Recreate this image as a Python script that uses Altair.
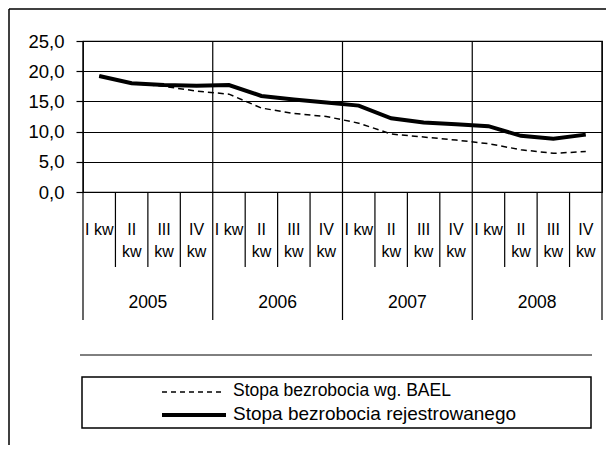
import altair as alt
import pandas as pd

years = ["2005", "2006", "2007", "2008"]
quarters = ["I kw", "II kw", "III kw", "IV kw"]
series_names = ["Stopa bezrobocia wg. BAEL", "Stopa bezrobocia rejestrowanego"]
bael = [19.2, 18.0, 17.5, 16.7, 16.2, 13.9, 13.0, 12.5, 11.4, 9.6, 9.1, 8.6, 8.0, 7.0, 6.4, 6.7]
reg = [19.2, 18.0, 17.7, 17.6, 17.7, 15.9, 15.3, 14.8, 14.3, 12.2, 11.5, 11.2, 10.9, 9.3, 8.8, 9.5]
y_ticks = [0, 5, 10, 15, 20, 25]

FONT = "Liberation Sans"

rows = []
i = 0
for y in years:
    for q in quarters:
        top = q if len(q) <= 4 else q.split()[0]
        bottom = "" if len(q) <= 4 else q.split()[1]
        rows.append({"i": i, "year": y, "quarter": q, "top": top, "bottom": bottom,
                     "bael": bael[i], "reg": reg[i]})
        i += 1
df = pd.DataFrame(rows)
n = len(df)

xscale = alt.Scale(domain=[0, n], nice=False, zero=False)
yscale = alt.Scale(domain=[0, 25], nice=False)
yaxis = alt.Axis(values=y_ticks, title=None, grid=True, gridColor="black",
                 gridOpacity=1, gridWidth=1.2, domain=False, tickColor="black", tickSize=7,
                 tickWidth=1.2, labelPadding=12, labelFont=FONT, labelFontSize=18.5,
                 labelColor="black", labelOverlap=False,
                 labelExpr="replace(format(datum.value, '.1f'), '.', ',')")

base = alt.Chart(df).transform_calculate(xc="datum.i + 0.5")

line_bael = base.mark_line(color="black", strokeWidth=1.5, strokeDash=[6, 4]).encode(
    x=alt.X("xc:Q", scale=xscale, axis=None),
    y=alt.Y("bael:Q", scale=yscale, axis=yaxis),
)
line_reg = base.mark_line(color="black", strokeWidth=4).encode(
    x=alt.X("xc:Q", scale=xscale, axis=None),
    y=alt.Y("reg:Q", scale=yscale, axis=yaxis),
)

# category separators
bounds = pd.DataFrame({"b": list(range(n + 1))})
bounds["major"] = bounds["b"] % len(quarters) == 0
sep_minor = alt.Chart(bounds).transform_filter("!datum.major").mark_rule(color="black", strokeWidth=1.2).encode(
    x=alt.X("b:Q", scale=xscale, axis=None), y=alt.value(151), y2=alt.value(226))
sep_major = alt.Chart(bounds).transform_filter("datum.major").mark_rule(color="black", strokeWidth=1.2).encode(
    x=alt.X("b:Q", scale=xscale, axis=None), y=alt.value(0), y2=alt.value(279))

q_top = base.mark_text(font=FONT, fontSize=16, color="black", baseline="middle").encode(
    x=alt.X("xc:Q", scale=xscale, axis=None), y=alt.value(189), text="top:N")
q_bot = base.mark_text(font=FONT, fontSize=16, color="black", baseline="middle").encode(
    x=alt.X("xc:Q", scale=xscale, axis=None), y=alt.value(211), text="bottom:N")

ydf = pd.DataFrame({"year": years, "k": list(range(len(years)))})
year_txt = alt.Chart(ydf).transform_calculate(
    xc=f"datum.k * {len(quarters)} + {len(quarters) / 2}").mark_text(
    font=FONT, fontSize=17.5, color="black", baseline="middle").encode(
    x=alt.X("xc:Q", scale=xscale, axis=None), y=alt.value(262), text="year:N")

# legend
one = pd.DataFrame({"d": [0]})
sep_line = alt.Chart(one).mark_rule(color="black", strokeWidth=1).encode(
    x=alt.value(-3), x2=alt.value(509), y=alt.value(314))
leg_box = alt.Chart(one).mark_rect(fill="white", stroke="black", strokeWidth=1.5).encode(
    x=alt.value(-1), x2=alt.value(508), y=alt.value(336), y2=alt.value(387))
leg_dash = alt.Chart(one).mark_rule(color="black", strokeWidth=1.5, strokeDash=[5, 4]).encode(
    x=alt.value(79), x2=alt.value(139), y=alt.value(351))
leg_solid = alt.Chart(one).mark_rule(color="black", strokeWidth=4).encode(
    x=alt.value(79), x2=alt.value(143), y=alt.value(374))
leg_df = pd.DataFrame({"name": series_names, "k": [0, 1]})
leg_t1 = alt.Chart(leg_df).transform_filter("datum.k == 0").mark_text(
    font=FONT, fontSize=17.5, color="black", align="left", baseline="middle").encode(
    x=alt.value(150), y=alt.value(350), text="name:N")
leg_t2 = alt.Chart(leg_df).transform_filter("datum.k == 1").mark_text(
    font=FONT, fontSize=19, color="black", align="left", baseline="middle").encode(
    x=alt.value(150), y=alt.value(373), text="name:N")

# outer frame
frame_top = alt.Chart(one).mark_rule(color="black", strokeWidth=1.5).encode(
    x=alt.value(-74), x2=alt.value(530), y=alt.value(-32))
frame_left = alt.Chart(one).mark_rule(color="black", strokeWidth=1.5).encode(
    x=alt.value(-74), y=alt.value(-32), y2=alt.value(410))

chart = alt.layer(
    frame_top, frame_left,
    line_bael, line_reg,
    sep_minor, sep_major, q_top, q_bot, year_txt,
    sep_line, leg_box, leg_dash, leg_solid, leg_t1, leg_t2,
).properties(
    width=519, height=151,
    padding={"left": 75, "top": 33, "right": 4, "bottom": 253},
    autosize="none",
    background="white",
).configure_view(stroke="black", strokeWidth=1.2)

chart.save("out.html", embed_options={"renderer": "svg", "actions": False})
